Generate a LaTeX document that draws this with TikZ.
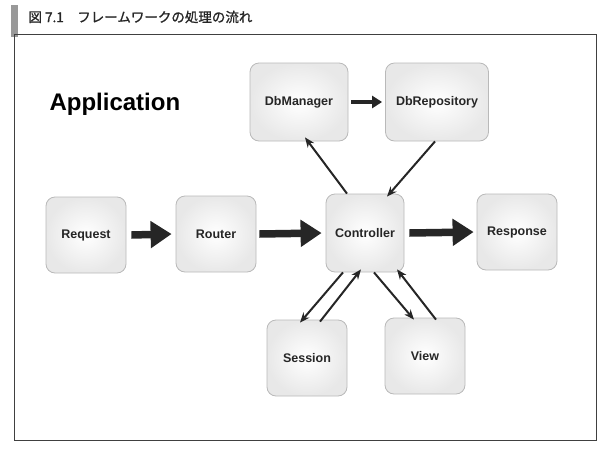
\documentclass[tikz,border=0pt]{standalone}
\usepackage{fontspec}
\setmainfont{Liberation Sans}
\newfontfamily\jpfont[FakeBold=1.2]{Noto Sans CJK JP}
\usetikzlibrary{arrows.meta}

\tikzset{
    box/.style={draw=gray!55, line width=0.8pt, rounded corners=9pt,
        inner color=white, outer color=gray!18,
        minimum width=80pt, minimum height=76pt, inner sep=0pt,
        font=\bfseries\fontsize{12.5}{14}\selectfont, text=black!85},
    bigarrow/.style={black!85, line width=7.5pt, -{Triangle[length=21pt,width=26pt]}},
    midarrow/.style={black!85, line width=3.5pt, -{Triangle[length=10pt,width=12pt]}},
    thinarrow/.style={black!85, line width=2pt, -{Stealth[length=10pt,width=8pt]}}
}

\begin{document}
\begin{tikzpicture}[x=1pt,y=-1pt]
    \useasboundingbox (0,0) rectangle (614,448);

    % Title and frame
    \fill[gray!80] (11,5) rectangle (18,37);
    \node[anchor=west, text=black!85, font=\jpfont\fontsize{13.5}{15}\selectfont] (title) at (25,17) {図 7.1\quad フレームワークの処理の流れ};
    \draw[black!75, line width=1pt] (14,34) rectangle (596,440);

    \node[anchor=west, font=\bfseries\fontsize{24}{28}\selectfont] (app) at (46,104) {Application};

    % Boxes
    \node[box] (req) at (86,235) {Request};
    \node[box] (rtr) at (216,234) {Router};
    \node[box, minimum width=78pt, minimum height=78pt] (ctrl) at (365,233) {Controller};
    \node[box] (resp) at (517,232) {Response};
    \node[box, minimum width=98pt, minimum height=78pt] (dbm) at (299,102) {DbManager};
    \node[box, minimum width=103pt, minimum height=78pt] (dbr) at (437,102) {DbRepository};
    \node[box] (sess) at (307,358) {Session};
    \node[box] (view) at (425,356) {View};

    % Main flow
    \draw[bigarrow] ([xshift=5pt]req.east) -- ([xshift=-4pt]rtr.west);
    \draw[bigarrow] ([xshift=3pt]rtr.east) -- ([xshift=-4pt]ctrl.west);
    \draw[bigarrow] ([xshift=5pt]ctrl.east) -- ([xshift=-3pt]resp.west);
    \draw[midarrow] ([xshift=3pt]dbm.east) -- ([xshift=-3pt]dbr.west);

    % Controller and the others
    \draw[thinarrow] ([xshift=-18pt]ctrl.north) -- ([xshift=6pt,yshift=4pt]dbm.south);
    \draw[thinarrow] ([xshift=-2pt]dbr.south) -- ([xshift=22pt,yshift=-3pt]ctrl.north);
    \draw[thinarrow] ([xshift=-22pt]ctrl.south) -- ([xshift=-7pt,yshift=-3pt]sess.north);
    \draw[thinarrow] ([xshift=13pt,yshift=-2pt]sess.north) -- ([xshift=-4pt,yshift=3pt]ctrl.south);
    \draw[thinarrow] ([xshift=9pt]ctrl.south) -- ([xshift=-11pt,yshift=-2pt]view.north);
    \draw[thinarrow] ([xshift=11pt,yshift=-2pt]view.north) -- ([xshift=32pt,yshift=3pt]ctrl.south);
\end{tikzpicture}
\end{document}
